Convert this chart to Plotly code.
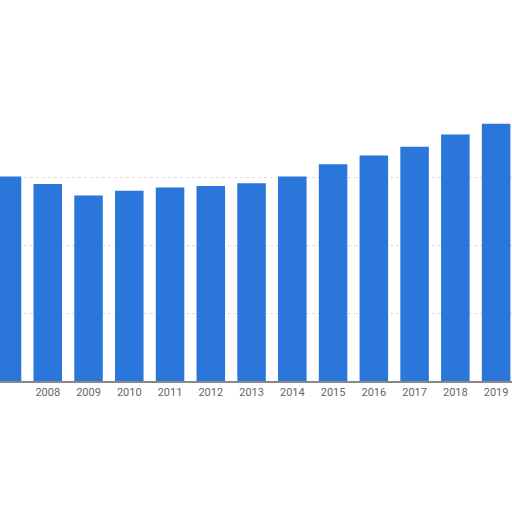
import plotly.graph_objects as go

years = [str(y) for y in range(2007, 2020)]
values = [3.02, 2.91, 2.74, 2.81, 2.86, 2.88, 2.92, 3.02, 3.20, 3.33, 3.46, 3.64, 3.80]
# first year's label would fall off the left edge, so it is left out
tick_years = years[1:]

fig = go.Figure(
    go.Bar(
        x=years,
        y=values,
        marker_color="#2a76db",
        marker_line_width=0,
    )
)

fig.update_layout(
    width=512,
    height=512,
    margin=dict(l=0, r=0, t=0, b=131),
    paper_bgcolor="white",
    plot_bgcolor="white",
    bargap=0.30,
    showlegend=False,
    font=dict(family="Roboto, Arial, sans-serif", size=11, color="#666666"),
)
fig.update_xaxes(
    type="category",
    range=[-0.172, 12.39],
    automargin=False,
    showline=True,
    linecolor="#888888",
    linewidth=1.5,
    showgrid=False,
    ticks="",
    tickmode="array",
    tickvals=tick_years,
    ticktext=tick_years,
    tickfont=dict(size=11, color="#666666"),
)
fig.update_yaxes(
    range=[0, 5.628],
    automargin=False,
    tickmode="array",
    tickvals=[1, 2, 3],
    showgrid=True,
    gridcolor="#dcdcdc",
    griddash="dot",
    gridwidth=1,
    zeroline=False,
    showticklabels=False,
)

# drop the browser's default body margin so the figure sits at the window corner
fig.write_html(
    "out.html",
    config={"displayModeBar": False},
    post_script="document.body.style.margin='0';",
)
